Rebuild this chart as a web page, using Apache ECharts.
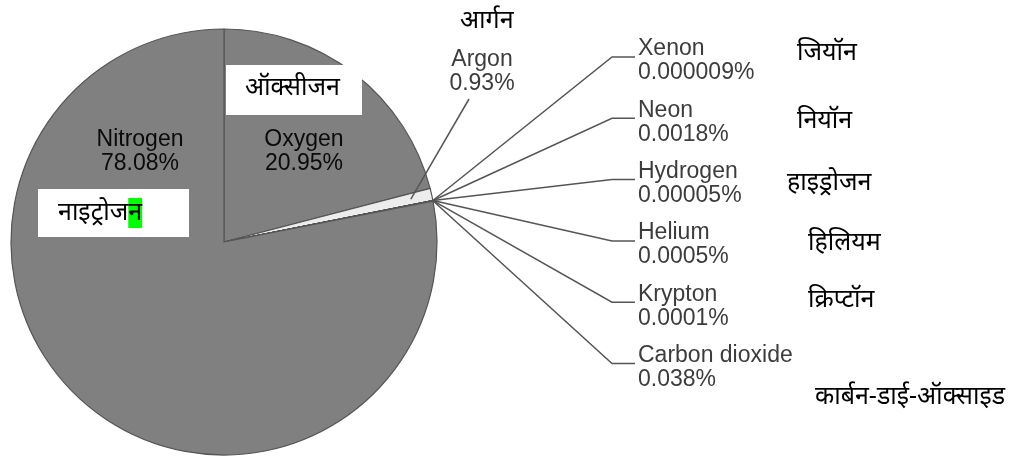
<!DOCTYPE html>
<html>
<head>
<meta charset="utf-8">
<script src="https://cdn.jsdelivr.net/npm/echarts@6/dist/echarts.min.js"></script>
<style>
html,body{margin:0;padding:0;background:#fff;}
#chart{width:1016px;height:462px;}
</style>
</head>
<body>
<div id="chart"></div>
<script>
// ---- data ----
const gasNames = ['Oxygen', 'Argon', 'Xenon', 'Neon', 'Hydrogen', 'Helium', 'Krypton', 'Carbon dioxide', 'Nitrogen'];
const gasValues = [20.95, 0.93, 0.000009, 0.0018, 0.00005, 0.0005, 0.0001, 0.038, 78.08];
const gasPercentLabels = ['20.95%', '0.93%', '0.000009%', '0.0018%', '0.00005%', '0.0005%', '0.0001%', '0.038%', '78.08%'];
const hindiNames = ['ऑक्सीजन', 'आर्गन', 'जियॉन', 'नियॉन', 'हाइड्रोजन', 'हिलियम', 'क्रिप्टॉन', 'कार्बन-डाई-ऑक्साइड', 'नाइट्रोजन'];

// ---- layout ----
const CX = 224, CY = 242, R = 213;
const insideNames = ['Oxygen', 'Nitrogen'];
const insidePos = { Oxygen: [304, 152], Nitrogen: [140, 152] };
const argonLabel = [482, 72];
const outerTop = 61, outerStep = 61.3, outerX = 638, bendX = 612;
const hindiFont = '"Noto Sans", "Noto Sans Devanagari", "Lohit Devanagari", "Mangal", sans-serif';
const HF = 25;

const chart = echarts.init(document.getElementById('chart'), null, { renderer: 'canvas' });

const baseData = gasNames.map((n, i) => ({
  name: n,
  value: gasValues[i],
  itemStyle: { color: n === 'Argon' ? '#ececec' : '#808080' }
}));

const labelData = gasNames.map((n, i) => {
  const inside = insideNames.includes(n);
  return {
    name: n,
    value: gasValues[i],
    label: inside ? { position: 'inside', color: '#0a0a0a' } : { position: 'outside', color: '#3c3c3c' },
    labelLine: { show: !inside }
  };
});

const outerOrder = gasNames.filter(n => !insideNames.includes(n) && n !== 'Argon');

const option = {
  animation: false,
  backgroundColor: '#ffffff',
  series: [{
    type: 'pie',
    z: 2,
    center: [CX, CY],
    radius: R,
    startAngle: 90,
    clockwise: true,
    silent: true,
    itemStyle: { borderColor: '#555555', borderWidth: 1.2 },
    label: { show: false },
    labelLine: { show: false },
    data: baseData
  }, {
    type: 'pie',
    z: 3,
    center: [CX, CY],
    radius: R,
    startAngle: 90,
    clockwise: true,
    avoidLabelOverlap: false,
    silent: true,
    itemStyle: { color: 'rgba(0,0,0,0)', borderWidth: 0 },
    label: {
      show: true,
      fontFamily: '"Liberation Sans", Arial, sans-serif',
      fontSize: 23,
      lineHeight: 24,
      formatter: p => p.name + '\n' + gasPercentLabels[p.dataIndex]
    },
    labelLine: { show: true, lineStyle: { color: '#555', width: 1.5 } },
    labelLayout: function (params) {
      const name = gasNames[params.dataIndex];
      if (insideNames.includes(name)) {
        const p = insidePos[name];
        return { x: p[0], y: p[1], align: 'center', verticalAlign: 'middle' };
      }
      const pts = params.labelLinePoints;
      if (!pts) return {};
      const rim = pts[0];
      if (name === 'Argon') {
        const s = [CX + (rim[0] - CX) * 0.9, CY + (rim[1] - CY) * 0.9];
        const e = [argonLabel[0] - 13, argonLabel[1] + 27];
        return {
          x: argonLabel[0], y: argonLabel[1], align: 'center', verticalAlign: 'middle',
          labelLinePoints: [s, e, e]
        };
      }
      const k = outerOrder.indexOf(name);
      const ly = outerTop + k * outerStep;
      const lineY = ly - 4;
      return {
        x: outerX, y: ly, align: 'left', verticalAlign: 'middle',
        labelLinePoints: [rim, [bendX, lineY], [outerX - 3, lineY]]
      };
    },
    data: labelData
  }],
  graphic: [
    { type: 'rect', shape: { x: 226, y: 65, width: 136, height: 50 }, style: { fill: '#fff' }, z: 100 },
    { type: 'rect', shape: { x: 38, y: 189, width: 151, height: 48 }, style: { fill: '#fff' }, z: 100 },
    { type: 'text', z: 101, style: { text: hindiNames[0], x: 245, y: 88, fontSize: HF, fontFamily: hindiFont, fill: '#000', verticalAlign: 'middle' } },
    { type: 'text', z: 101, style: {
        text: hindiNames[8].slice(0, -1) + '{g|' + hindiNames[8].slice(-1) + '}',
        x: 58, y: 213, fontSize: HF, fontFamily: hindiFont, fill: '#000', verticalAlign: 'middle',
        rich: { g: { backgroundColor: '#00ff00', fontSize: HF, fontFamily: hindiFont, fill: '#000', height: 30, lineHeight: 30 } }
      } },
    { type: 'text', z: 101, style: { text: hindiNames[1], x: 460, y: 21, fontSize: HF, fontFamily: hindiFont, fill: '#000', verticalAlign: 'middle' } },
    { type: 'text', z: 101, style: { text: hindiNames[2], x: 797, y: 53, fontSize: HF, fontFamily: hindiFont, fill: '#000', verticalAlign: 'middle' } },
    { type: 'text', z: 101, style: { text: hindiNames[3], x: 797, y: 121, fontSize: HF, fontFamily: hindiFont, fill: '#000', verticalAlign: 'middle' } },
    { type: 'text', z: 101, style: { text: hindiNames[4], x: 787, y: 183, fontSize: HF, fontFamily: hindiFont, fill: '#000', verticalAlign: 'middle' } },
    { type: 'text', z: 101, style: { text: hindiNames[5], x: 808, y: 243, fontSize: HF, fontFamily: hindiFont, fill: '#000', verticalAlign: 'middle' } },
    { type: 'text', z: 101, style: { text: hindiNames[6], x: 808, y: 300, fontSize: HF, fontFamily: hindiFont, fill: '#000', verticalAlign: 'middle' } },
    { type: 'text', z: 101, style: { text: hindiNames[7], x: 815, y: 397, fontSize: HF, fontFamily: hindiFont, fill: '#000', verticalAlign: 'middle' } }
  ]
};
chart.setOption(option);
</script>
</body>
</html>
